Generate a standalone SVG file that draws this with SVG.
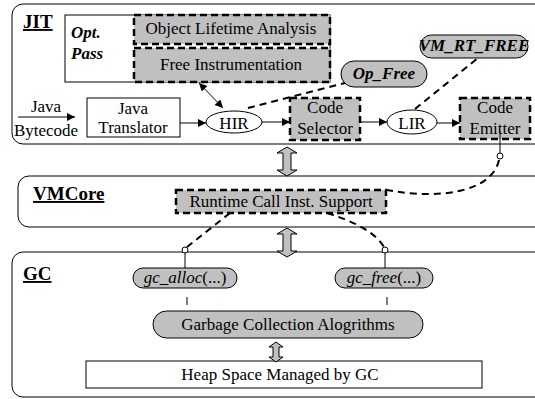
<svg xmlns="http://www.w3.org/2000/svg" width="535" height="399" viewBox="0 0 535 399">
<defs>
<style>
text{font-family:"Liberation Serif","Times New Roman",serif;font-size:17px;fill:#000}
.c{text-anchor:middle}
.lbl{font-weight:bold;font-size:19px;text-decoration:underline}
.bi{font-weight:bold;font-style:italic}
.panel{fill:#fff;stroke:#000;stroke-width:1}
.box{fill:#fff;stroke:#000;stroke-width:1}
.dbox{fill:#c0c0c0;stroke:#000;stroke-width:2.5;stroke-dasharray:7,4}
.pill{fill:#c0c0c0;stroke:#000;stroke-width:1}
.ell{fill:#fff;stroke:#000;stroke-width:1}
.dash{fill:none;stroke:#000;stroke-width:2;stroke-dasharray:7,5}
.ln{fill:none;stroke:#000;stroke-width:1}
.blk{fill:#c0c0c0;stroke:#000;stroke-width:1}
.dot{fill:#fff;stroke:#000;stroke-width:1}
</style>
<marker id="ah" viewBox="0 0 10 10" refX="10" refY="5" markerWidth="10" markerHeight="8" markerUnits="userSpaceOnUse" orient="auto-start-reverse">
<path d="M0,0 L10,5 L0,10 Z" fill="#000"/>
</marker>
</defs>

<g id="panel-jit">
<rect class="panel" x="12" y="4" width="540" height="140" rx="11"/>
<text class="lbl" x="23" y="28">JIT</text>
</g>
<g id="panel-vmcore">
<rect class="panel" x="18" y="176" width="540" height="51" rx="11"/>
<text class="lbl" x="33" y="200" font-size="20">VMCore</text>
</g>
<g id="panel-gc">
<rect class="panel" x="12" y="252" width="540" height="145" rx="11"/>
<text class="lbl" x="23" y="280">GC</text>
</g>

<g id="opt-pass">
<rect class="box" x="65" y="15" width="265" height="67"/>
<text class="bi" x="71" y="38" font-size="19">Opt.</text>
<text class="bi" x="71" y="59" font-size="19">Pass</text>
</g>
<g id="object-lifetime">
<rect class="dbox" x="134" y="15" width="196" height="29"/>
<text class="c" x="231" y="34">Object Lifetime Analysis</text>
</g>
<g id="free-instrumentation">
<rect class="dbox" x="134" y="48" width="196" height="34"/>
<text class="c" x="231" y="70">Free Instrumentation</text>
</g>
<g id="java-bytecode">
<text class="c" x="46" y="112">Java</text>
<text class="c" x="46" y="136">Bytecode</text>
</g>
<g id="java-translator">
<rect class="box" x="87" y="98" width="93" height="39"/>
<text class="c" x="133" y="114">Java</text>
<text class="c" x="133" y="133">Translator</text>
</g>
<g id="hir">
<ellipse class="ell" cx="234" cy="122" rx="28" ry="11"/>
<text class="c" x="234" y="129" font-size="19">HIR</text>
</g>
<g id="code-selector">
<rect class="dbox" x="290" y="98" width="70" height="42"/>
<text class="c" x="325" y="113">Code</text>
<text class="c" x="325" y="134">Selector</text>
</g>
<g id="lir">
<ellipse class="ell" cx="412" cy="122" rx="25" ry="12"/>
<text class="c" x="412" y="129" font-size="19">LIR</text>
</g>
<g id="code-emitter">
<rect class="dbox" x="460" y="98" width="70" height="41"/>
<text class="c" x="495" y="113">Code</text>
<text class="c" x="495" y="134">Emitter</text>
</g>
<g id="op-free">
<rect class="pill" x="341" y="61" width="86" height="26" rx="13"/>
<text class="c bi" x="384" y="79" font-size="15">Op_Free</text>
</g>
<g id="vm-rt-free">
<rect class="pill" x="420" y="35" width="108" height="23" rx="11.5"/>
<text class="c bi" x="474" y="51" font-size="14">VM_RT_FREE</text>
</g>
<g id="runtime-call">
<rect class="dbox" x="176" y="190" width="210" height="23"/>
<text class="c" x="281" y="207">Runtime Call Inst. Support</text>
</g>
<g id="gc-alloc">
<rect class="pill" x="133" y="268" width="104" height="20" rx="10"/>
<text class="c" x="185" y="283" font-size="15"><tspan font-style="italic">gc_alloc</tspan>(...)</text>
</g>
<g id="gc-free">
<rect class="pill" x="335" y="268" width="98" height="20" rx="10"/>
<text class="c" x="384" y="283" font-size="15"><tspan font-style="italic">gc_free</tspan>(...)</text>
</g>
<g id="gc-algorithms">
<rect class="pill" x="153" y="311" width="270" height="27" rx="13.5"/>
<text class="c" x="288" y="330">Garbage Collection Alogrithms</text>
</g>
<g id="heap-space">
<rect class="box" x="86" y="361" width="396" height="27"/>
<text class="c" x="280" y="380">Heap Space Managed by GC</text>
</g>

<g id="connectors">
<line class="ln" x1="18" y1="117" x2="75" y2="117" marker-end="url(#ah)"/>
<line class="ln" x1="180" y1="123" x2="206" y2="123" marker-end="url(#ah)"/>
<line class="ln" x1="262" y1="122" x2="290" y2="122" marker-end="url(#ah)"/>
<line class="ln" x1="360" y1="122" x2="387" y2="122" marker-end="url(#ah)"/>
<line class="ln" x1="437" y1="123" x2="460" y2="123" marker-end="url(#ah)"/>
<line class="ln" x1="199" y1="83" x2="223" y2="108" marker-start="url(#ah)" marker-end="url(#ah)"/>
<line class="dash" x1="248" y1="108" x2="345" y2="83"/>
<line class="dash" x1="415" y1="109" x2="478" y2="58"/>
<line class="ln" x1="500" y1="131" x2="500" y2="153"/>
<circle class="dot" cx="500" cy="156" r="3"/>
<path class="dash" d="M499,160 C492,192 440,200 387,190"/>
<path class="dash" d="M230,213 L187,247"/>
<path class="dash" d="M327,213 C355,222 375,232 384,247"/>
<circle class="dot" cx="185" cy="250" r="3"/>
<circle class="dot" cx="385" cy="250" r="3"/>
<line class="ln" x1="185" y1="253" x2="185" y2="268"/>
<line class="ln" x1="385" y1="253" x2="385" y2="268"/>
<line class="ln" x1="187" y1="297" x2="187" y2="305"/>
<line class="ln" x1="387" y1="297" x2="387" y2="305"/>
<path class="blk" d="M287,147 L297,153 L291,153 L291,170 L297,170 L287,176 L277,170 L283,170 L283,153 L277,153 Z"/>
<path class="blk" d="M287,228 L297,234 L291,234 L291,251 L297,251 L287,257 L277,251 L283,251 L283,234 L277,234 Z"/>
<path class="blk" d="M276,342 L283,347 L279,347 L279,357 L283,357 L276,362 L269,357 L273,357 L273,347 L269,347 Z"/>
</g>
</svg>
